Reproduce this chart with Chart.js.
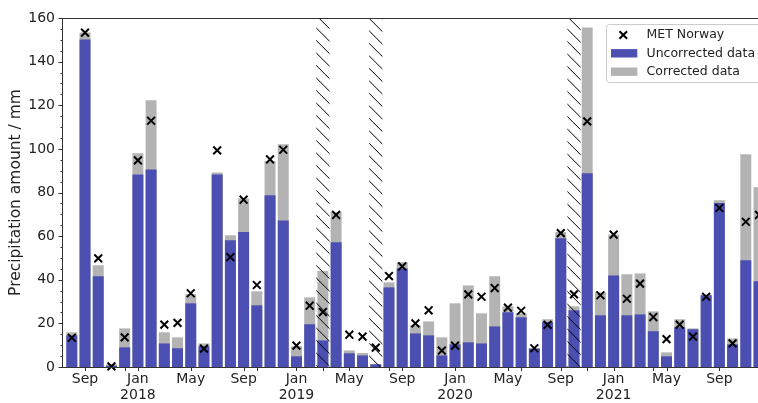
<!DOCTYPE html>
<html>
<head>
<meta charset="utf-8">
<script src="https://cdn.jsdelivr.net/npm/chart.js@4/dist/chart.umd.min.js"></script>
<style>
  html, body { margin: 0; padding: 0; background: #fff; overflow: hidden; }
  #wrap { width: 758px; height: 403px; overflow: hidden; }
  canvas { display: block; }
</style>
</head>
<body>
<div id="wrap"><canvas id="c" width="800" height="403"></canvas></div>
<script>
// Monthly precipitation totals, Aug 2017 - Dec 2021 (mm)
const months = [
  '2017-08','2017-09','2017-10','2017-11','2017-12',
  '2018-01','2018-02','2018-03','2018-04','2018-05','2018-06','2018-07','2018-08','2018-09','2018-10','2018-11','2018-12',
  '2019-01','2019-02','2019-03','2019-04','2019-05','2019-06','2019-07','2019-08','2019-09','2019-10','2019-11','2019-12',
  '2020-01','2020-02','2020-03','2020-04','2020-05','2020-06','2020-07','2020-08','2020-09','2020-10','2020-11','2020-12',
  '2021-01','2021-02','2021-03','2021-04','2021-05','2021-06','2021-07','2021-08','2021-09','2021-10','2021-11','2021-12'
];

const uncorrected = [
  14.5, 150.2, 41.6, 0.6, 9.0,
  88.3, 90.6, 10.8, 8.6, 29.2, 9.5, 88.3, 58.1, 61.9, 28.3, 78.7, 67.2,
  4.9, 19.6, 12.2, 57.2, 6.3, 5.3, 1.2, 36.5, 45.2, 15.4, 14.5, 5.3,
  10.4, 11.3, 10.8, 18.6, 25.1, 22.8, 8.4, 20.6, 59.0, 26.0, 88.8, 23.7,
  42.0, 23.7, 24.1, 16.4, 4.9, 18.2, 17.3, 32.9, 75.2, 10.4, 48.9, 39.3
];

const corrected = [
  15.9, 153.3, 46.6, 1.2, 17.7,
  98.0, 122.3, 15.9, 13.6, 33.3, 10.8, 89.2, 60.4, 77.3, 34.7, 94.3, 102.1,
  9.5, 31.9, 44.0, 71.1, 7.6, 6.4, 1.4, 38.8, 48.0, 19.1, 20.9, 13.6,
  29.2, 37.4, 24.6, 41.6, 27.8, 24.6, 8.7, 21.9, 61.9, 27.8, 155.6, 34.2,
  60.8, 42.5, 42.9, 25.5, 6.7, 21.9, 17.7, 33.3, 76.4, 13.1, 97.5, 82.4
];

const metNorway = [
  13.4, 153.3, 49.8, 0.3, 13.6,
  94.7, 112.9, 19.4, 20.2, 33.8, 8.4, 99.3, 50.4, 76.7, 37.6, 95.2, 99.6,
  9.8, 28.1, 25.2, 69.7, 14.8, 13.9, 8.9, 41.7, 46.1, 20.0, 26.0, 7.5,
  9.8, 33.3, 32.2, 36.2, 27.2, 25.8, 8.6, 19.3, 61.4, 33.3, 112.6, 32.9,
  60.7, 31.3, 38.2, 22.9, 12.8, 19.4, 13.9, 32.2, 72.9, 10.8, 66.6, 69.7
];

// Months with incomplete records (shaded with hatching)
const gapMonths = ['2019-03', '2019-07', '2020-10'];

// Axis ticks (month keys) and their labels
const tickMonths = ['2017-09','2017-12','2018-01','2018-05','2018-09','2018-10','2019-01','2019-03','2019-05','2019-08','2019-09',
                    '2020-01','2020-05','2020-06','2020-09','2020-11','2021-01','2021-04','2021-05','2021-09'];
const tickLabels = ['Sep','',['Jan','2018'],'May','Sep','',['Jan','2019'],'','May','','Sep',
                    ['Jan','2020'],'May','','Sep','',['Jan','2021'],'','May','Sep'];
const yTicks = [0, 20, 40, 60, 80, 100, 120, 140, 160];

const BLUE = '#4c4fb2';
const GREY = '#b3b3b3';
const FONT = 'DejaVu Sans';

const idx = m => months.indexOf(m);
const pts = arr => arr.map((v, i) => ({ x: i, y: v }));

const spines = {
  id: 'spines',
  afterDatasetsDraw(chart) {
    const { ctx, chartArea: a, scales: { x, y } } = chart;
    ctx.save();
    ctx.strokeStyle = '#333';
    ctx.lineWidth = 1;
    ctx.strokeRect(Math.round(a.left) - 0.5, Math.round(a.top) + 0.5, a.right - a.left, a.bottom - a.top);
    // y ticks: major every 20, minor every 5
    for (let v = 0; v <= 160; v += 5) {
      const py = Math.round(y.getPixelForValue(v)) + 0.5;
      const len = v % 20 === 0 ? 4 : 2;
      ctx.beginPath();
      ctx.moveTo(a.left - 0.5, py);
      ctx.lineTo(a.left - 0.5 - len, py);
      ctx.stroke();
    }
    // x ticks
    tickMonths.forEach(m => {
      const px = Math.round(x.getPixelForValue(idx(m))) + 0.5;
      ctx.beginPath();
      ctx.moveTo(px, a.bottom);
      ctx.lineTo(px, a.bottom + 4);
      ctx.stroke();
    });
    ctx.restore();
  }
};

const hatching = {
  id: 'hatching',
  beforeDatasetDraw(chart, args) {
    if (args.index !== 0) return;
    const { ctx, chartArea: a, scales: { x } } = chart;
    ctx.save();
    ctx.strokeStyle = '#000';
    ctx.lineWidth = 1;
    gapMonths.forEach(m => {
      const i = idx(m);
      const x0 = x.getPixelForValue(i - 0.5);
      const x1 = x.getPixelForValue(i + 0.5);
      ctx.save();
      ctx.beginPath();
      ctx.rect(x0, a.top, x1 - x0, a.bottom - a.top);
      ctx.clip();
      const step = 12.5;
      // lines of the form y = x + c, c from a regular lattice
      const cMin = a.top - x1, cMax = a.bottom - x0;
      let c = Math.floor((cMin - 11.7) / step) * step + 11.7;
      ctx.beginPath();
      for (; c <= cMax + step; c += step) {
        ctx.moveTo(x0 - 2, x0 - 2 + c);
        ctx.lineTo(x1 + 2, x1 + 2 + c);
      }
      ctx.stroke();
      ctx.restore();
    });
    ctx.restore();
  }
};

const legendBox = {
  id: 'legendBox',
  afterDraw(chart) {
    const { ctx } = chart;
    const ds = chart.data.datasets;
    const bx = 606.5, by = 24.5, bw = 180, bh = 58, r = 3;
    ctx.save();
    ctx.beginPath();
    ctx.moveTo(bx + r, by);
    ctx.lineTo(bx + bw - r, by);
    ctx.arcTo(bx + bw, by, bx + bw, by + r, r);
    ctx.lineTo(bx + bw, by + bh - r);
    ctx.arcTo(bx + bw, by + bh, bx + bw - r, by + bh, r);
    ctx.lineTo(bx + r, by + bh);
    ctx.arcTo(bx, by + bh, bx, by + bh - r, r);
    ctx.lineTo(bx, by + r);
    ctx.arcTo(bx, by, bx + r, by, r);
    ctx.closePath();
    ctx.fillStyle = 'rgba(255,255,255,0.8)';
    ctx.fill();
    ctx.strokeStyle = '#cccccc';
    ctx.lineWidth = 1;
    ctx.stroke();

    const rows = [35, 53.3, 71.7];
    const textX = 646.5;
    ctx.font = `12.5px "${FONT}"`;
    ctx.textBaseline = 'middle';
    ctx.fillStyle = '#222';
    // marker entry
    ctx.strokeStyle = '#000';
    ctx.lineWidth = 2;
    const mx = 623.3, my = rows[0], d = 3.8;
    ctx.beginPath();
    ctx.moveTo(mx - d, my - d); ctx.lineTo(mx + d, my + d);
    ctx.moveTo(mx - d, my + d); ctx.lineTo(mx + d, my - d);
    ctx.stroke();
    ctx.fillText(ds[0].label, textX, rows[0]);
    // bar entries
    [1, 2].forEach((k, j) => {
      ctx.fillStyle = ds[k].backgroundColor;
      ctx.fillRect(611, rows[j + 1] - 4.2, 26.3, 8.4);
      ctx.fillStyle = '#222';
      ctx.fillText(ds[k].label, textX, rows[j + 1]);
    });
    ctx.restore();
  }
};

new Chart(document.getElementById('c'), {
  type: 'bar',
  data: {
    datasets: [
      {
        type: 'line',
        label: 'MET Norway',
        data: pts(metNorway),
        showLine: false,
        pointStyle: 'crossRot',
        pointRadius: 5.5,
        pointBorderWidth: 2,
        borderColor: '#000',
        backgroundColor: '#000',
        clip: false
      },
      {
        label: 'Uncorrected data',
        data: pts(uncorrected),
        backgroundColor: BLUE,
        grouped: false,
        barPercentage: 1,
        categoryPercentage: 0.83
      },
      {
        label: 'Corrected data',
        data: pts(corrected),
        backgroundColor: GREY,
        grouped: false,
        barPercentage: 1,
        categoryPercentage: 0.83
      }
    ]
  },
  options: {
    responsive: false,
    animation: false,
    devicePixelRatio: 1,
    layout: { padding: { top: 18, left: 0, right: 32, bottom: 0 } },
    plugins: { legend: { display: false }, tooltip: { enabled: false } },
    scales: {
      x: {
        type: 'linear',
        offset: false,
        min: -0.666,
        max: 52.68,
        grid: { display: false, drawTicks: false },
        border: { display: false },
        afterBuildTicks: s => { s.ticks = tickMonths.map(m => ({ value: idx(m) })); },
        afterFit: s => { s.height = 36; },
        ticks: {
          autoSkip: false,
          maxRotation: 0,
          padding: 5,
          color: '#222',
          font: { family: FONT, size: 14, lineHeight: 1.12 },
          callback: (v) => {
            const k = tickMonths.findIndex(m => idx(m) === v);
            return k >= 0 ? tickLabels[k] : '';
          }
        }
      },
      y: {
        min: 0,
        max: 160,
        grid: { display: false, drawTicks: false },
        border: { display: false },
        afterBuildTicks: s => { s.ticks = yTicks.map(v => ({ value: v })); },
        afterFit: s => { s.width = 63; },
        ticks: {
          padding: 8,
          color: '#222',
          font: { family: FONT, size: 14 }
        },
        title: {
          display: true,
          text: 'Precipitation amount / mm',
          color: '#222',
          font: { family: FONT, size: 15.5, lineHeight: 1.2 },
          padding: { top: 7, bottom: 0 }
        }
      }
    }
  },
  plugins: [hatching, spines, legendBox]
});
</script>
</body>
</html>
